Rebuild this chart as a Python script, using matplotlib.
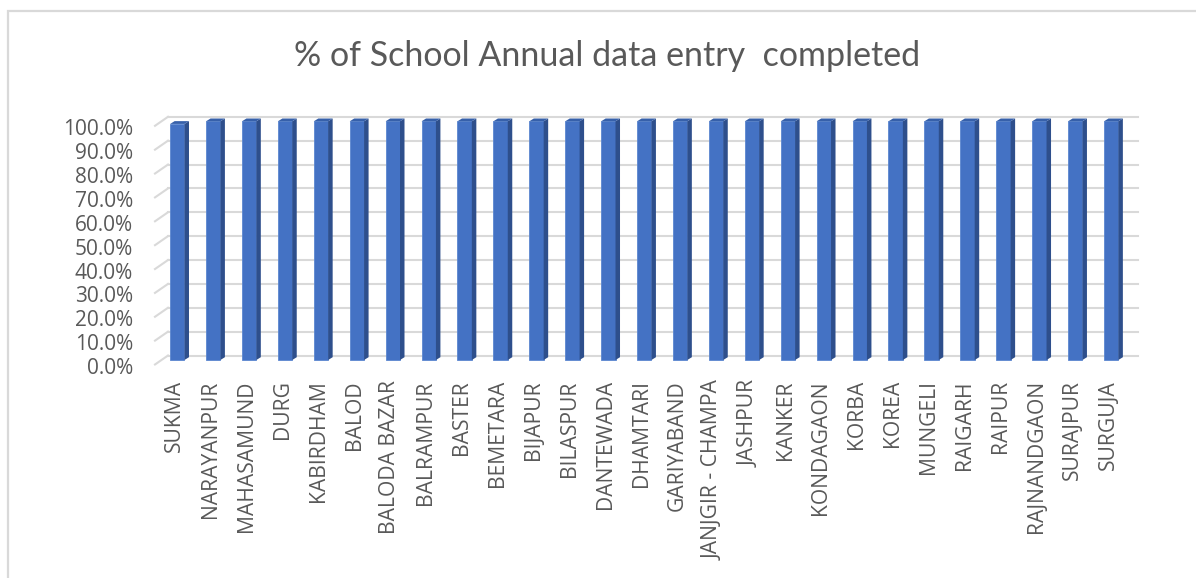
import numpy as np
import matplotlib
matplotlib.use('Agg')
import matplotlib.pyplot as plt
from matplotlib.patches import Polygon, Rectangle
from matplotlib.transforms import ScaledTranslation

# Data
districts = ['SUKMA', 'NARAYANPUR', 'MAHASAMUND', 'DURG', 'KABIRDHAM', 'BALOD',
             'BALODA BAZAR', 'BALRAMPUR', 'BASTER', 'BEMETARA', 'BIJAPUR', 'BILASPUR',
             'DANTEWADA', 'DHAMTARI', 'GARIYABAND', 'JANJGIR - CHAMPA', 'JASHPUR',
             'KANKER', 'KONDAGAON', 'KORBA', 'KOREA', 'MUNGELI', 'RAIGARH', 'RAIPUR',
             'RAJNANDGAON', 'SURAJPUR', 'SURGUJA']
pct_done = [98.9, 100.0, 100.0, 100.0, 100.0, 100.0, 100.0, 100.0, 100.0, 100.0,
            100.0, 100.0, 100.0, 100.0, 100.0, 100.0, 100.0, 100.0, 100.0, 100.0,
            100.0, 100.0, 100.0, 100.0, 100.0, 100.0, 100.0]
yticks = np.arange(0, 101, 10)

title = '% of School Annual data entry  completed'
txt_color = '#595959'
grid_color = '#d9d9d9'
front_c = '#4472C4'
side_c = '#2E4F8C'
top_c = '#3660AA'

fig = plt.figure(figsize=(11.96, 5.78), dpi=100)
W, H = 1196, 578

# outer chart border (only left and top visible)
fig.patches.append(Rectangle((8 / W, -0.1), 1.2, 1.1 - 11 / H, transform=fig.transFigure,
                             fill=False, edgecolor=grid_color, linewidth=1.6))

ax_left, ax_right = 161.5, 1131.3
ax_bot, ax_top = H - 360, H - 121.3
ax = fig.add_axes([ax_left / W, ax_bot / H, (ax_right - ax_left) / W, (ax_top - ax_bot) / H])
n = len(districts)
x = np.arange(n)
ax.set_xlim(-0.5, n - 0.5)
ax.set_ylim(0, 100)
for s in ax.spines.values():
    s.set_visible(False)

# depth offsets in data units (pixels / pixels-per-unit)
px_x = (ax_right - ax_left) / n
px_y = (ax_top - ax_bot) / 100
wall_dx, wall_dy = 6.5 / px_x, 4.5 / px_y
bar_dx, bar_dy = 4.5 / px_x, 2.8 / px_y

# back wall gridlines + left side wall lines
for v in yticks:
    ax.plot([-0.5 + wall_dx, n - 0.5 + wall_dx], [v + wall_dy, v + wall_dy],
            color=grid_color, lw=1.5, clip_on=False, zorder=1)
    ax.plot([-0.5 - wall_dx, -0.5 + wall_dx], [v - wall_dy, v + wall_dy],
            color=grid_color, lw=1.5, clip_on=False, zorder=1)

# bars with a fake 3D side and top
bw = 0.4
xb = x - 0.06
ax.bar(xb, pct_done, width=bw, color=front_c, edgecolor='#5b86d0', linewidth=0.6,
       zorder=3, clip_on=False)
for xi, v in zip(xb, pct_done):
    r = xi + bw / 2
    l = xi - bw / 2
    ax.add_patch(Polygon([(r, 0), (r + bar_dx, bar_dy), (r + bar_dx, v + bar_dy), (r, v)],
                         closed=True, facecolor=side_c, edgecolor='none', zorder=3, clip_on=False))
    ax.add_patch(Polygon([(l, v), (r, v), (r + bar_dx, v + bar_dy), (l + bar_dx, v + bar_dy)],
                         closed=True, facecolor=top_c, edgecolor='none', zorder=3, clip_on=False))

# y ticks
ax.set_yticks(yticks)
ax.set_yticklabels(['{:.1f}%'.format(v) for v in yticks], fontsize=15,
                   color=txt_color, family='Open Sans')
ax.tick_params(axis='y', length=0, pad=20.5)
for lab in ax.get_yticklabels():
    lab.set_transform(lab.get_transform() + ScaledTranslation(0, -6 / 100, fig.dpi_scale_trans))

# x ticks
ax.set_xticks(x)
ax.set_xticklabels(districts, rotation=90, fontsize=15.2, color=txt_color, family='Open Sans')
ax.tick_params(axis='x', length=0, pad=14.5)
for lab in ax.get_xticklabels():
    lab.set_transform(lab.get_transform() + ScaledTranslation(-5 / 100, 0, fig.dpi_scale_trans))

fig.text(607 / W, 1 - 56 / H, title, ha='center', va='center', fontsize=24.5,
         color=txt_color, family='Lato')

fig.savefig('out.png', dpi=100)
